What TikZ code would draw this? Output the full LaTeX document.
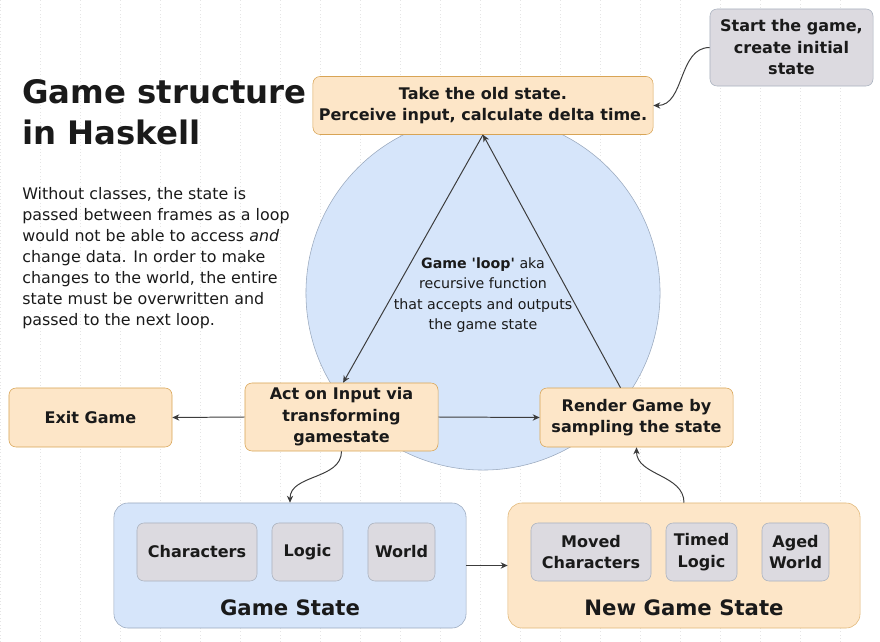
\documentclass[tikz,border=0pt]{standalone}
\usepackage{fontspec}
\setmainfont{DejaVu Sans}
\usetikzlibrary{arrows.meta}

\definecolor{orfill}{HTML}{FDE6C8}
\definecolor{orline}{HTML}{D8A455}
\definecolor{blfill}{HTML}{D6E5FA}
\definecolor{blline}{HTML}{9AA9BE}
\definecolor{gyfill}{HTML}{DCDAE0}
\definecolor{gyline}{HTML}{A9B1BE}
\definecolor{txt}{HTML}{1A1A1A}

\begin{document}
\begin{tikzpicture}[x=0.025cm, y=-0.025cm, >={Stealth[length=5pt,width=4.5pt]},
  every node/.style={text=txt},
  box/.style={draw=orline, fill=orfill, rounded corners=5pt, align=center, inner sep=0pt,
    font=\fontsize{11.4}{15.3}\selectfont\bfseries},
  greybox/.style={box, draw=gyline, fill=gyfill},
  statebox/.style={draw=blline, fill=blfill, rounded corners=10pt, inner sep=0pt},
  link/.style={->, draw=txt!85, line width=0.7pt}]
  \useasboundingbox (0,0) rectangle (880,642);
  \draw[gray!20, dotted] (0,0) grid[step=40] (880,642);

  % title and note
  \node[anchor=north west, align=left, inner sep=0pt, font=\fontsize{23}{29.5}\selectfont\bfseries]
    (title) at (22,79) {Game structure\\in Haskell};
  \node[anchor=north west, align=left, inner sep=0pt, font=\fontsize{11.3}{15}\selectfont]
    (note) at (22,187) {Without classes, the state is\\passed between frames as a loop\\would not be able to access \textit{and}\\change data. In order to make\\changes to the world, the entire\\state must be overwritten and\\passed to the next loop.};

  % the loop
  \node[circle, draw=blline, fill=blfill, minimum size=8.85cm, inner sep=0pt] (loop) at (483,293) {};
  \node[align=center, inner sep=0pt, font=\fontsize{10.1}{14.6}\selectfont] (looptext) at (483,295)
    {\textbf{Game \textquotesingle loop\textquotesingle} aka\\recursive function\\that accepts and outputs\\the game state};

  \node[box, minimum width=8.5cm, minimum height=1.45cm] (old) at (483,105.5)
    {Take the old state.\\Perceive input, calculate delta time.};
  \node[greybox, minimum width=4.075cm, minimum height=1.925cm] (start) at (791.5,47.5)
    {Start the game,\\create initial\\state};
  \node[box, minimum width=4.825cm, minimum height=1.7cm] (act) at (341.5,417)
    {Act on Input via\\transforming\\gamestate};
  \node[box, minimum width=4.075cm, minimum height=1.475cm] (exit) at (90.5,417.5) {Exit Game};
  \node[box, minimum width=4.825cm, minimum height=1.475cm] (render) at (636.5,417.5)
    {Render Game by\\sampling the state};

  % states
  \node[statebox, minimum width=8.8cm, minimum height=3.125cm] (gs) at (290,565.5) {};
  \node[statebox, draw=orline!80, fill=orfill, minimum width=8.8cm, minimum height=3.125cm] (ngs) at (684,565.5) {};
  \node[font=\fontsize{15.1}{18}\selectfont\bfseries] (gslabel) at (290,608) {Game State};
  \node[font=\fontsize{15.1}{18}\selectfont\bfseries] (ngslabel) at (684,608) {New Game State};

  \node[greybox, minimum width=3cm, minimum height=1.45cm] (chars) at (197,552) {Characters};
  \node[greybox, minimum width=1.775cm, minimum height=1.45cm] (logic) at (307.5,552) {Logic};
  \node[greybox, minimum width=1.675cm, minimum height=1.45cm] (world) at (401.5,552) {World};
  \node[greybox, minimum width=3cm, minimum height=1.45cm] (moved) at (591,552) {Moved\\Characters};
  \node[greybox, minimum width=1.775cm, minimum height=1.45cm] (timed) at (701.5,552) {Timed\\Logic};
  \node[greybox, minimum width=1.675cm, minimum height=1.45cm] (aged) at (795.5,552) {Aged\\World};

  % connectors
  \draw[link] (start.west) to[out=180, in=0] (old.east);
  \draw[link] (old.south) -- ([xshift=0.04cm]act.north);
  \draw[link] ([xshift=-0.4cm]render.north) -- (old.south);
  \draw[link] (act.west) -- (exit.east);
  \draw[link] (act.east) -- (render.west);
  \draw[link] (act.south) to[out=-90, in=90] (gs.north);
  \draw[link] (gs.east) -- (ngs.west);
  \draw[link] (ngs.north) to[out=90, in=-90] (render.south);
\end{tikzpicture}
\end{document}
